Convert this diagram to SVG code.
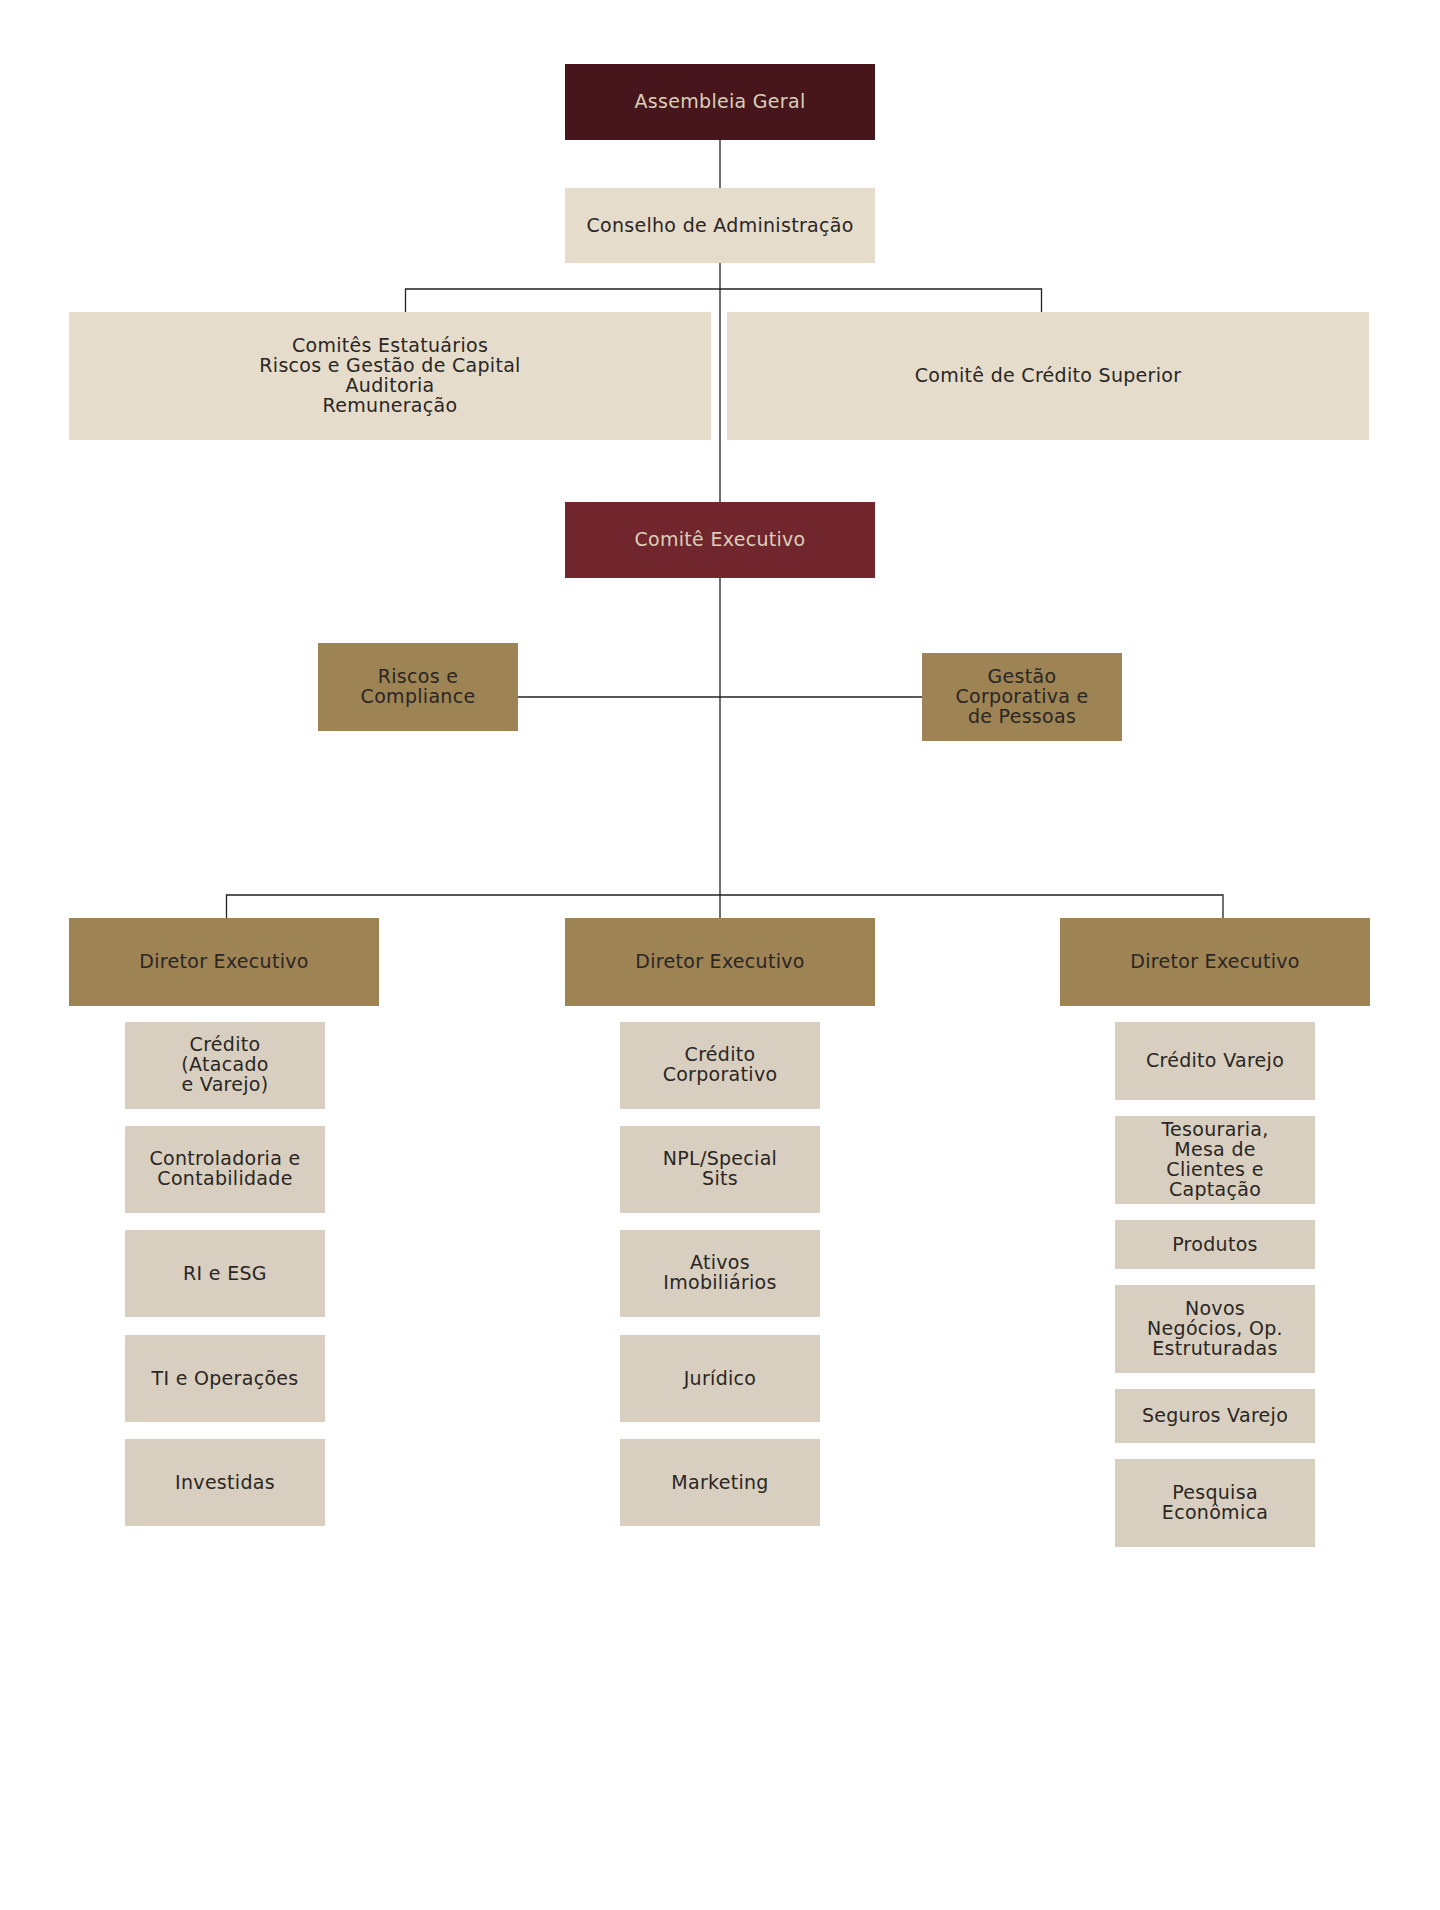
<svg xmlns="http://www.w3.org/2000/svg" width="1440" height="1910" viewBox="0 0 1440 1910">
<style>
text{font-family:"DejaVu Sans","Liberation Sans",sans-serif;font-size:19px;letter-spacing:0.3px;text-anchor:middle;fill:#2a2624}
.lt{fill:#dccfb9}
.dark{fill:#46161c}
.exec{fill:#71252d}
.gold{fill:#9e8354}
.beige{fill:#e5dccb}
.sub{fill:#d8cfc0}
.con{stroke:#222;stroke-width:1.3;fill:none}
</style>
<rect width="1440" height="1910" fill="#ffffff"/>
<g id="connectors">
<path class="con" d="M720 140V188M720 263V502M720 577.5V918"/>
<path class="con" d="M405.5 312V289H1041.5V312"/>
<path class="con" d="M518 697H922"/>
<path class="con" d="M226.5 918V895H1223V918"/>
</g>
<g id="assembleia"><rect class="dark" x="565" y="64" width="310" height="76"/><text class="lt" x="720" y="108">Assembleia Geral</text></g>
<g id="conselho"><rect class="beige" x="565" y="188" width="310" height="75"/><text x="720" y="232">Conselho de Administração</text></g>
<g id="comites"><rect class="beige" x="69" y="312" width="642" height="128"/><text x="390" y="352">Comitês Estatuários</text><text x="390" y="372">Riscos e Gestão de Capital</text><text x="390" y="392">Auditoria</text><text x="390" y="412">Remuneração</text></g>
<g id="credito-superior"><rect class="beige" x="727" y="312" width="642" height="128"/><text x="1048" y="382">Comitê de Crédito Superior</text></g>
<g id="comite-executivo"><rect class="exec" x="565" y="502" width="310" height="76"/><text class="lt" x="720" y="546">Comitê Executivo</text></g>
<g id="riscos"><rect class="gold" x="318" y="643" width="200" height="88"/><text x="418" y="683">Riscos e</text><text x="418" y="703">Compliance</text></g>
<g id="gestao"><rect class="gold" x="922" y="653" width="200" height="88"/><text x="1022" y="683">Gestão</text><text x="1022" y="703">Corporativa e</text><text x="1022" y="723">de Pessoas</text></g>
<g id="diretor-1"><rect class="gold" x="69" y="918" width="310" height="88"/><text x="224" y="968">Diretor Executivo</text></g>
<g id="diretor-2"><rect class="gold" x="565" y="918" width="310" height="88"/><text x="720" y="968">Diretor Executivo</text></g>
<g id="diretor-3"><rect class="gold" x="1060" y="918" width="310" height="88"/><text x="1215" y="968">Diretor Executivo</text></g>
<g id="credito-atacado-varejo"><rect class="sub" x="125" y="1022" width="200" height="87"/><text x="225" y="1051">Crédito</text><text x="225" y="1071">(Atacado</text><text x="225" y="1091">e Varejo)</text></g>
<g id="controladoria"><rect class="sub" x="125" y="1126" width="200" height="87"/><text x="225" y="1165">Controladoria e</text><text x="225" y="1185">Contabilidade</text></g>
<g id="ri-esg"><rect class="sub" x="125" y="1230" width="200" height="87"/><text x="225" y="1280">RI e ESG</text></g>
<g id="ti-operacoes"><rect class="sub" x="125" y="1335" width="200" height="87"/><text x="225" y="1385">TI e Operações</text></g>
<g id="investidas"><rect class="sub" x="125" y="1439" width="200" height="87"/><text x="225" y="1489">Investidas</text></g>
<g id="credito-corporativo"><rect class="sub" x="620" y="1022" width="200" height="87"/><text x="720" y="1061">Crédito</text><text x="720" y="1081">Corporativo</text></g>
<g id="npl"><rect class="sub" x="620" y="1126" width="200" height="87"/><text x="720" y="1165">NPL/Special</text><text x="720" y="1185">Sits</text></g>
<g id="ativos"><rect class="sub" x="620" y="1230" width="200" height="87"/><text x="720" y="1269">Ativos</text><text x="720" y="1289">Imobiliários</text></g>
<g id="juridico"><rect class="sub" x="620" y="1335" width="200" height="87"/><text x="720" y="1385">Jurídico</text></g>
<g id="marketing"><rect class="sub" x="620" y="1439" width="200" height="87"/><text x="720" y="1489">Marketing</text></g>
<g id="credito-varejo"><rect class="sub" x="1115" y="1022" width="200" height="78"/><text x="1215" y="1067">Crédito Varejo</text></g>
<g id="tesouraria"><rect class="sub" x="1115" y="1116" width="200" height="88"/><text x="1215" y="1136">Tesouraria,</text><text x="1215" y="1156">Mesa de</text><text x="1215" y="1176">Clientes e</text><text x="1215" y="1196">Captação</text></g>
<g id="produtos"><rect class="sub" x="1115" y="1220" width="200" height="49"/><text x="1215" y="1251">Produtos</text></g>
<g id="novos-negocios"><rect class="sub" x="1115" y="1285" width="200" height="88"/><text x="1215" y="1315">Novos</text><text x="1215" y="1335">Negócios, Op.</text><text x="1215" y="1355">Estruturadas</text></g>
<g id="seguros-varejo"><rect class="sub" x="1115" y="1389" width="200" height="54"/><text x="1215" y="1422">Seguros Varejo</text></g>
<g id="pesquisa"><rect class="sub" x="1115" y="1459" width="200" height="88"/><text x="1215" y="1499">Pesquisa</text><text x="1215" y="1519">Econômica</text></g>
</svg>
